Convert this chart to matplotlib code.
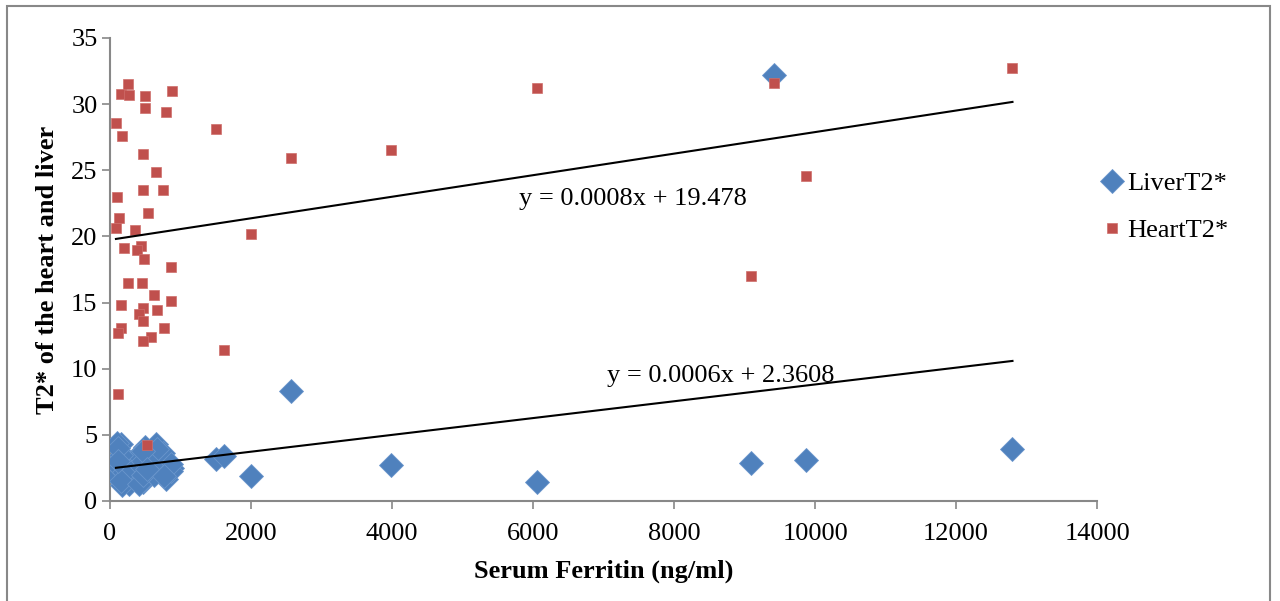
import numpy as np
import matplotlib
matplotlib.use("Agg")
import matplotlib.pyplot as plt
from matplotlib.patches import Rectangle

# Serum ferritin (ng/ml) per patient
ferritin = [85, 152, 260, 270, 500, 885, 500, 800, 165, 1500,
            463, 657, 463, 752, 104, 132, 534, 85, 359, 435,
            203, 378, 487, 861, 260, 449, 629, 861, 156, 468,
            671, 411, 468, 156, 118, 766, 577, 463, 118, 525,
            2570, 3980, 6050, 2000, 1620, 9420, 9870, 9090, 12800]
heart_t2 = [28.6, 30.8, 31.5, 30.7, 30.6, 31.0, 29.7, 29.4, 27.6, 28.1,
            26.2, 24.9, 23.5, 23.5, 23.0, 21.4, 21.8, 20.6, 20.5, 19.3,
            19.1, 19.0, 18.3, 17.7, 16.5, 16.5, 15.6, 15.1, 14.8, 14.6,
            14.4, 14.1, 13.6, 13.1, 12.7, 13.1, 12.4, 12.1, 8.1, 4.2,
            25.9, 26.5, 31.2, 20.2, 11.4, 31.6, 24.6, 17.0, 32.7]
liver_t2 = [1.9, 4.3, 3.1, 1.3, 2.2, 2.5, 4.1, 1.7, 1.2, 3.2,
            2.9, 4.3, 1.4, 3.6, 4.4, 2.6, 3.3, 2.8, 1.8, 3.6,
            2.2, 3.4, 1.6, 2.3, 2.4, 2.6, 2.0, 2.8, 1.5, 3.0,
            3.9, 1.3, 2.0, 3.5, 4.0, 1.9, 2.7, 3.8, 3.0, 2.4,
            8.3, 2.7, 1.4, 1.9, 3.4, 32.2, 3.1, 2.9, 3.9]

series_names = ["LiverT2*", "HeartT2*"]
eq_heart = "y = 0.0008x + 19.478"
eq_liver = "y = 0.0006x + 2.3608"
x_ticks = [0, 2000, 4000, 6000, 8000, 10000, 12000, 14000]
y_ticks = [0, 5, 10, 15, 20, 25, 30, 35]

plt.rcParams['font.family'] = ['Liberation Serif', 'DejaVu Serif']

fig = plt.figure(figsize=(12.8, 6.01), dpi=100)
ax = fig.add_axes([0.0859, 0.1664, 0.7712, 0.7704])

blue = '#4F81BD'
red = '#C0504D'

x = np.array(ferritin, dtype=float)
hl = np.array(heart_t2)
lv = np.array(liver_t2)

ax.plot(x, lv, linestyle='none', marker='D', ms=12.5, color=blue,
        markeredgecolor='#6a96cc', markeredgewidth=0.6, label=series_names[0], zorder=3)
ax.plot(x, hl, linestyle='none', marker='s', ms=6.8, color=red,
        markeredgecolor='#cf6e6b', markeredgewidth=0.5, label=series_names[1], zorder=4)

xs = np.array([x.min(), x.max()])
for yy in (lv, hl):
    m, b = np.polyfit(x, yy, 1)
    ax.plot(xs, m * xs + b, color='black', lw=1.5, zorder=5)

ax.text(7418, 22.8, eq_heart, ha='center', va='center', fontsize=19, zorder=6)
ax.text(8667, 9.45, eq_liver, ha='center', va='center', fontsize=19, zorder=6)

ax.set_xlim(0, 14000)
ax.set_ylim(0, 35)
ax.set_xticks(x_ticks)
ax.set_yticks(y_ticks)
ax.tick_params(axis='both', labelsize=19, color='#888888', length=6, width=1.2,
               direction='out')
ax.tick_params(axis='x', pad=10)
ax.tick_params(axis='y', pad=3)
for s in ('top', 'right'):
    ax.spines[s].set_visible(False)
for s in ('left', 'bottom'):
    ax.spines[s].set_color('#888888')
    ax.spines[s].set_linewidth(1.5)

ax.set_xlabel("Serum Ferritin (ng/ml)", fontsize=19, fontweight='bold', labelpad=10)
ax.set_ylabel("T2* of the heart and liver", fontsize=19, fontweight='bold', labelpad=9)

leg = fig.legend(handles=ax.get_lines()[:2], loc='center left',
                 bbox_to_anchor=(1078/1280, (601-207)/601), frameon=False,
                 fontsize=19, handlelength=0.8, handletextpad=0.15, labelspacing=0.9)

fig.patches.append(Rectangle((7/1280, -0.01), (1270-7)/1280, (601-6)/601 + 0.01,
                             transform=fig.transFigure, fill=False,
                             edgecolor='#888888', lw=1.5))

fig.savefig("out.png", dpi=100)
